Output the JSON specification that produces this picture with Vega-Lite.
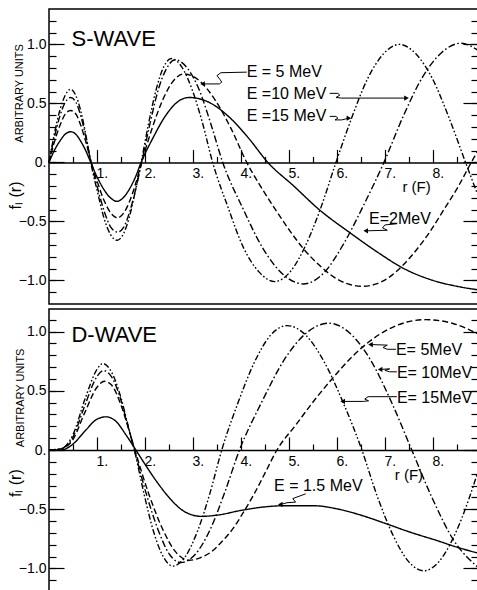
{
  "$schema": "https://vega.github.io/schema/vega-lite/v6.json",
  "background": "white",
  "padding": {"left": 7, "top": 8, "right": 0, "bottom": 0},
  "spacing": 3,
  "config": {
    "view": {"stroke": "black", "strokeWidth": 1.5},
    "axis": {"grid": false, "tickColor": "black", "tickWidth": 1.2, "labelColor": "black", "labelFont": "Liberation Sans", "labelFontSize": 14, "labelOverlap": false, "labelFlush": false, "title": null, "domain": false}
  },
  "datasets": {
    "s_lines": [
      {"E":"E=15","r":0,"f":0},{"E":"E=15","r":0.11,"f":0.24},{"E":"E=15","r":0.225,"f":0.44},{"E":"E=15","r":0.34,"f":0.57},{"E":"E=15","r":0.45,"f":0.62},{"E":"E=15","r":0.555,"f":0.57},{"E":"E=15","r":0.66,"f":0.44},{"E":"E=15","r":0.765,"f":0.24},{"E":"E=15","r":0.87,"f":0},{"E":"E=15","r":1.01,"f":-0.25},{"E":"E=15","r":1.145,"f":-0.47},{"E":"E=15","r":1.28,"f":-0.61},{"E":"E=15","r":1.42,"f":-0.66},{"E":"E=15","r":1.545,"f":-0.61},{"E":"E=15","r":1.67,"f":-0.47},{"E":"E=15","r":1.795,"f":-0.25},{"E":"E=15","r":1.92,"f":0},{"E":"E=15","r":2.08,"f":0.34},{"E":"E=15","r":2.235,"f":0.62},{"E":"E=15","r":2.39,"f":0.81},{"E":"E=15","r":2.55,"f":0.88},{"E":"E=15","r":2.765,"f":0.81},{"E":"E=15","r":2.98,"f":0.62},{"E":"E=15","r":3.195,"f":0.34},{"E":"E=15","r":3.41,"f":0},{"E":"E=15","r":3.73,"f":-0.38},{"E":"E=15","r":4.05,"f":-0.72},{"E":"E=15","r":4.38,"f":-0.93},{"E":"E=15","r":4.7,"f":-1.01},{"E":"E=15","r":5.02,"f":-0.93},{"E":"E=15","r":5.34,"f":-0.71},{"E":"E=15","r":5.66,"f":-0.39},{"E":"E=15","r":5.98,"f":0},{"E":"E=15","r":6.31,"f":0.38},{"E":"E=15","r":6.64,"f":0.71},{"E":"E=15","r":6.97,"f":0.92},{"E":"E=15","r":7.3,"f":1.0},{"E":"E=15","r":7.645,"f":0.92},{"E":"E=15","r":7.99,"f":0.71},{"E":"E=15","r":8.335,"f":0.38},{"E":"E=15","r":8.68,"f":0},{"E":"E=15","r":8.94,"f":-0.28},
      {"E":"E=10","r":0,"f":0},{"E":"E=10","r":0.11,"f":0.21},{"E":"E=10","r":0.225,"f":0.39},{"E":"E=10","r":0.34,"f":0.51},{"E":"E=10","r":0.45,"f":0.55},{"E":"E=10","r":0.56,"f":0.51},{"E":"E=10","r":0.665,"f":0.39},{"E":"E=10","r":0.77,"f":0.21},{"E":"E=10","r":0.88,"f":0},{"E":"E=10","r":1.02,"f":-0.23},{"E":"E=10","r":1.155,"f":-0.42},{"E":"E=10","r":1.29,"f":-0.55},{"E":"E=10","r":1.43,"f":-0.59},{"E":"E=10","r":1.555,"f":-0.55},{"E":"E=10","r":1.68,"f":-0.42},{"E":"E=10","r":1.805,"f":-0.23},{"E":"E=10","r":1.93,"f":0},{"E":"E=10","r":2.105,"f":0.33},{"E":"E=10","r":2.28,"f":0.62},{"E":"E=10","r":2.455,"f":0.8},{"E":"E=10","r":2.63,"f":0.87},{"E":"E=10","r":2.88,"f":0.8},{"E":"E=10","r":3.125,"f":0.62},{"E":"E=10","r":3.37,"f":0.33},{"E":"E=10","r":3.62,"f":0},{"E":"E=10","r":4.04,"f":-0.39},{"E":"E=10","r":4.46,"f":-0.73},{"E":"E=10","r":4.88,"f":-0.95},{"E":"E=10","r":5.3,"f":-1.03},{"E":"E=10","r":5.72,"f":-0.94},{"E":"E=10","r":6.14,"f":-0.69},{"E":"E=10","r":6.56,"f":-0.36},{"E":"E=10","r":6.98,"f":0},{"E":"E=10","r":7.38,"f":0.39},{"E":"E=10","r":7.78,"f":0.72},{"E":"E=10","r":8.18,"f":0.93},{"E":"E=10","r":8.58,"f":1.01},{"E":"E=10","r":8.94,"f":0.95},
      {"E":"E=5","r":0,"f":0},{"E":"E=5","r":0.11,"f":0.17},{"E":"E=5","r":0.225,"f":0.31},{"E":"E=5","r":0.34,"f":0.41},{"E":"E=5","r":0.45,"f":0.44},{"E":"E=5","r":0.56,"f":0.41},{"E":"E=5","r":0.665,"f":0.31},{"E":"E=5","r":0.77,"f":0.17},{"E":"E=5","r":0.88,"f":0},{"E":"E=5","r":1.02,"f":-0.18},{"E":"E=5","r":1.155,"f":-0.33},{"E":"E=5","r":1.29,"f":-0.43},{"E":"E=5","r":1.43,"f":-0.47},{"E":"E=5","r":1.555,"f":-0.43},{"E":"E=5","r":1.68,"f":-0.33},{"E":"E=5","r":1.805,"f":-0.18},{"E":"E=5","r":1.93,"f":0},{"E":"E=5","r":2.15,"f":0.29},{"E":"E=5","r":2.37,"f":0.53},{"E":"E=5","r":2.59,"f":0.69},{"E":"E=5","r":2.81,"f":0.75},{"E":"E=5","r":3.14,"f":0.69},{"E":"E=5","r":3.46,"f":0.53},{"E":"E=5","r":3.79,"f":0.29},{"E":"E=5","r":4.12,"f":0},{"E":"E=5","r":4.42,"f":-0.21},{"E":"E=5","r":4.72,"f":-0.4},{"E":"E=5","r":5.02,"f":-0.58},{"E":"E=5","r":5.32,"f":-0.74},{"E":"E=5","r":5.63,"f":-0.87},{"E":"E=5","r":5.93,"f":-0.97},{"E":"E=5","r":6.23,"f":-1.03},{"E":"E=5","r":6.53,"f":-1.05},{"E":"E=5","r":6.82,"f":-1.03},{"E":"E=5","r":7.1,"f":-0.97},{"E":"E=5","r":7.38,"f":-0.87},{"E":"E=5","r":7.66,"f":-0.74},{"E":"E=5","r":7.95,"f":-0.58},{"E":"E=5","r":8.23,"f":-0.4},{"E":"E=5","r":8.52,"f":-0.21},{"E":"E=5","r":8.8,"f":0},{"E":"E=5","r":8.94,"f":0.1},
      {"E":"E=2","r":0,"f":0},{"E":"E=2","r":0.11,"f":0.1},{"E":"E=2","r":0.225,"f":0.18},{"E":"E=2","r":0.34,"f":0.24},{"E":"E=2","r":0.45,"f":0.26},{"E":"E=2","r":0.555,"f":0.24},{"E":"E=2","r":0.66,"f":0.18},{"E":"E=2","r":0.765,"f":0.1},{"E":"E=2","r":0.87,"f":0},{"E":"E=2","r":1.01,"f":-0.13},{"E":"E=2","r":1.145,"f":-0.23},{"E":"E=2","r":1.28,"f":-0.3},{"E":"E=2","r":1.42,"f":-0.33},{"E":"E=2","r":1.545,"f":-0.3},{"E":"E=2","r":1.67,"f":-0.23},{"E":"E=2","r":1.795,"f":-0.13},{"E":"E=2","r":1.92,"f":0},{"E":"E=2","r":2.17,"f":0.21},{"E":"E=2","r":2.42,"f":0.39},{"E":"E=2","r":2.67,"f":0.51},{"E":"E=2","r":2.92,"f":0.55},{"E":"E=2","r":3.33,"f":0.51},{"E":"E=2","r":3.74,"f":0.39},{"E":"E=2","r":4.15,"f":0.21},{"E":"E=2","r":4.56,"f":0},{"E":"E=2","r":5.1,"f":-0.2},{"E":"E=2","r":5.63,"f":-0.4},{"E":"E=2","r":6.25,"f":-0.59},{"E":"E=2","r":6.88,"f":-0.77},{"E":"E=2","r":7.35,"f":-0.89},{"E":"E=2","r":8.0,"f":-1.0},{"E":"E=2","r":8.5,"f":-1.05},{"E":"E=2","r":8.94,"f":-1.08}
    ],
    "d_lines": [
      {"E":"E=15","r":0,"f":0},{"E":"E=15","r":0.25,"f":0.01},{"E":"E=15","r":0.5,"f":0.13},{"E":"E=15","r":0.75,"f":0.43},{"E":"E=15","r":1.0,"f":0.68},{"E":"E=15","r":1.12,"f":0.73},{"E":"E=15","r":1.3,"f":0.66},{"E":"E=15","r":1.5,"f":0.44},{"E":"E=15","r":1.64,"f":0.22},{"E":"E=15","r":1.78,"f":0},{"E":"E=15","r":1.98,"f":-0.37},{"E":"E=15","r":2.18,"f":-0.69},{"E":"E=15","r":2.38,"f":-0.9},{"E":"E=15","r":2.58,"f":-0.98},{"E":"E=15","r":2.84,"f":-0.9},{"E":"E=15","r":3.09,"f":-0.69},{"E":"E=15","r":3.35,"f":-0.37},{"E":"E=15","r":3.6,"f":0},{"E":"E=15","r":3.94,"f":0.4},{"E":"E=15","r":4.28,"f":0.74},{"E":"E=15","r":4.62,"f":0.97},{"E":"E=15","r":4.96,"f":1.05},{"E":"E=15","r":5.35,"f":0.97},{"E":"E=15","r":5.74,"f":0.74},{"E":"E=15","r":6.13,"f":0.4},{"E":"E=15","r":6.52,"f":0},{"E":"E=15","r":6.84,"f":-0.39},{"E":"E=15","r":7.17,"f":-0.72},{"E":"E=15","r":7.49,"f":-0.94},{"E":"E=15","r":7.81,"f":-1.02},{"E":"E=15","r":8.13,"f":-0.94},{"E":"E=15","r":8.45,"f":-0.72},{"E":"E=15","r":8.77,"f":-0.39},{"E":"E=15","r":8.94,"f":-0.18},
      {"E":"E=10","r":0,"f":0},{"E":"E=10","r":0.25,"f":0.01},{"E":"E=10","r":0.5,"f":0.11},{"E":"E=10","r":0.75,"f":0.38},{"E":"E=10","r":1.0,"f":0.62},{"E":"E=10","r":1.14,"f":0.67},{"E":"E=10","r":1.3,"f":0.62},{"E":"E=10","r":1.5,"f":0.42},{"E":"E=10","r":1.64,"f":0.21},{"E":"E=10","r":1.78,"f":0},{"E":"E=10","r":2.02,"f":-0.36},{"E":"E=10","r":2.27,"f":-0.67},{"E":"E=10","r":2.51,"f":-0.88},{"E":"E=10","r":2.75,"f":-0.95},{"E":"E=10","r":3.05,"f":-0.88},{"E":"E=10","r":3.36,"f":-0.67},{"E":"E=10","r":3.66,"f":-0.36},{"E":"E=10","r":3.97,"f":0},{"E":"E=10","r":4.44,"f":0.41},{"E":"E=10","r":4.9,"f":0.76},{"E":"E=10","r":5.37,"f":0.99},{"E":"E=10","r":5.83,"f":1.07},{"E":"E=10","r":6.26,"f":0.99},{"E":"E=10","r":6.7,"f":0.76},{"E":"E=10","r":7.13,"f":0.41},{"E":"E=10","r":7.56,"f":0},{"E":"E=10","r":7.99,"f":-0.41},{"E":"E=10","r":8.43,"f":-0.76},{"E":"E=10","r":8.94,"f":-0.99},
      {"E":"E=5","r":0,"f":0},{"E":"E=5","r":0.25,"f":0.01},{"E":"E=5","r":0.5,"f":0.09},{"E":"E=5","r":0.75,"f":0.32},{"E":"E=5","r":1.0,"f":0.53},{"E":"E=5","r":1.16,"f":0.58},{"E":"E=5","r":1.3,"f":0.55},{"E":"E=5","r":1.5,"f":0.38},{"E":"E=5","r":1.65,"f":0.19},{"E":"E=5","r":1.79,"f":0},{"E":"E=5","r":2.07,"f":-0.36},{"E":"E=5","r":2.36,"f":-0.66},{"E":"E=5","r":2.64,"f":-0.86},{"E":"E=5","r":2.92,"f":-0.93},{"E":"E=5","r":3.15,"f":-0.91},{"E":"E=5","r":3.38,"f":-0.86},{"E":"E=5","r":3.61,"f":-0.77},{"E":"E=5","r":3.84,"f":-0.66},{"E":"E=5","r":4.06,"f":-0.52},{"E":"E=5","r":4.29,"f":-0.36},{"E":"E=5","r":4.52,"f":-0.18},{"E":"E=5","r":4.75,"f":0},{"E":"E=5","r":5.14,"f":0.21},{"E":"E=5","r":5.53,"f":0.42},{"E":"E=5","r":5.92,"f":0.61},{"E":"E=5","r":6.3,"f":0.78},{"E":"E=5","r":6.69,"f":0.92},{"E":"E=5","r":7.08,"f":1.02},{"E":"E=5","r":7.46,"f":1.08},{"E":"E=5","r":7.85,"f":1.1},{"E":"E=5","r":8.4,"f":1.07},{"E":"E=5","r":8.94,"f":0.98},
      {"E":"E=1.5","r":0,"f":0},{"E":"E=1.5","r":0.25,"f":0.0},{"E":"E=1.5","r":0.5,"f":0.05},{"E":"E=1.5","r":0.75,"f":0.16},{"E":"E=1.5","r":1.0,"f":0.26},{"E":"E=1.5","r":1.19,"f":0.28},{"E":"E=1.5","r":1.4,"f":0.24},{"E":"E=1.5","r":1.6,"f":0.13},{"E":"E=1.5","r":1.81,"f":0},{"E":"E=1.5","r":2.0,"f":-0.12},{"E":"E=1.5","r":2.25,"f":-0.27},{"E":"E=1.5","r":2.5,"f":-0.4},{"E":"E=1.5","r":2.75,"f":-0.5},{"E":"E=1.5","r":3.0,"f":-0.55},{"E":"E=1.5","r":3.17,"f":-0.56},{"E":"E=1.5","r":3.5,"f":-0.55},{"E":"E=1.5","r":4.0,"f":-0.51},{"E":"E=1.5","r":4.5,"f":-0.48},{"E":"E=1.5","r":4.93,"f":-0.47},{"E":"E=1.5","r":5.5,"f":-0.47},{"E":"E=1.5","r":6.04,"f":-0.5},{"E":"E=1.5","r":6.5,"f":-0.55},{"E":"E=1.5","r":7.01,"f":-0.62},{"E":"E=1.5","r":7.5,"f":-0.69},{"E":"E=1.5","r":8.13,"f":-0.77},{"E":"E=1.5","r":8.5,"f":-0.82},{"E":"E=1.5","r":8.94,"f":-0.87}
    ],
    "s_arrows": [
      {"id":"a5","i":0,"r":4.12,"f":0.765},{"id":"a5","i":1,"r":3.58,"f":0.76},{"id":"a5","i":2,"r":3.5,"f":0.735},{"id":"a5","i":3,"r":3.56,"f":0.705},{"id":"a5","i":4,"r":3.6,"f":0.68},{"id":"a5","i":5,"r":3.55,"f":0.665},{"id":"a5","i":6,"r":3.2,"f":0.665},
      {"id":"a10","i":0,"r":5.85,"f":0.585},{"id":"a10","i":1,"r":6.02,"f":0.585},{"id":"a10","i":2,"r":6.06,"f":0.57},{"id":"a10","i":3,"r":5.98,"f":0.55},{"id":"a10","i":4,"r":6.1,"f":0.545},{"id":"a10","i":5,"r":7.45,"f":0.545},
      {"id":"a15","i":0,"r":5.85,"f":0.39},{"id":"a15","i":1,"r":5.98,"f":0.39},{"id":"a15","i":2,"r":6.02,"f":0.375},{"id":"a15","i":3,"r":5.96,"f":0.36},{"id":"a15","i":4,"r":6.1,"f":0.36},{"id":"a15","i":5,"r":6.25,"f":0.375},
      {"id":"a2","i":0,"r":7.25,"f":-0.52},{"id":"a2","i":1,"r":7.0,"f":-0.53},{"id":"a2","i":2,"r":6.95,"f":-0.555},{"id":"a2","i":3,"r":7.05,"f":-0.575},{"id":"a2","i":4,"r":6.6,"f":-0.58}
    ],
    "d_arrows": [
      {"id":"b5","i":0,"r":7.23,"f":0.85},{"id":"b5","i":1,"r":7.05,"f":0.85},{"id":"b5","i":2,"r":6.96,"f":0.865},{"id":"b5","i":3,"r":7.05,"f":0.885},{"id":"b5","i":4,"r":6.7,"f":0.89},
      {"id":"b10","i":0,"r":7.25,"f":0.66},{"id":"b10","i":1,"r":7.1,"f":0.66},{"id":"b10","i":2,"r":7.0,"f":0.672},{"id":"b10","i":3,"r":7.1,"f":0.685},{"id":"b10","i":4,"r":6.9,"f":0.68},
      {"id":"b15","i":0,"r":7.25,"f":0.45},{"id":"b15","i":1,"r":6.65,"f":0.45},{"id":"b15","i":2,"r":6.58,"f":0.43},{"id":"b15","i":3,"r":6.66,"f":0.415},{"id":"b15","i":4,"r":6.55,"f":0.41},{"id":"b15","i":5,"r":6.12,"f":0.41},
      {"id":"b1","i":0,"r":5.35,"f":-0.37},{"id":"b1","i":1,"r":5.08,"f":-0.41},{"id":"b1","i":2,"r":5.14,"f":-0.44},{"id":"b1","i":3,"r":4.96,"f":-0.445},{"id":"b1","i":4,"r":4.82,"f":-0.46}
    ],
    "s_tips": [
      {"r":3.2,"f":0.665,"dir":"left"},{"r":7.45,"f":0.545,"dir":"right"},{"r":6.25,"f":0.375,"dir":"right"},{"r":6.6,"f":-0.58,"dir":"left"}
    ],
    "d_tips": [
      {"r":6.7,"f":0.89,"dir":"left"},{"r":6.9,"f":0.68,"dir":"left"},{"r":6.12,"f":0.41,"dir":"left"},{"r":4.82,"f":-0.46,"dir":"left"}
    ],
    "s_labels": [
      {"text":"E = 5 MeV","r":4.12,"f":0.77},{"text":"E =10 MeV","r":4.12,"f":0.58},{"text":"E =15 MeV","r":4.12,"f":0.39},{"text":"E=2MeV","r":6.67,"f":-0.48}
    ],
    "d_labels": [
      {"text":"E= 5MeV","r":7.23,"f":0.84},{"text":"E= 10MeV","r":7.25,"f":0.65},{"text":"E= 15MeV","r":7.25,"f":0.44},{"text":"E = 1.5 MeV","r":4.69,"f":-0.3}
    ],
    "s_side": [
      {"text":"ARBITRARY UNITS","r":-0.6,"f":0.585,"kind":"units"},{"text":"fₗ (r)","r":-0.69,"f":-0.28,"kind":"f"}
    ],
    "d_side": [
      {"text":"ARBITRARY UNITS","r":-0.58,"f":0.44,"kind":"units"},{"text":"fₗ (r)","r":-0.69,"f":-0.28,"kind":"f"}
    ]
  },
  "vconcat": [
    {
      "width": 429,
      "height": 295,
      "resolve": {"axis": {"x": "independent", "y": "independent"}},
      "layer": [
        {
          "data": {"name": "s_lines"},
          "mark": {"type": "line", "interpolate": "monotone", "strokeWidth": 1.4, "color": "black"},
          "encoding": {
            "x": {"field": "r", "type": "quantitative", "scale": {"domain": [0, 8.94], "nice": false, "zero": false},
              "axis": {"orient": "bottom", "offset": -141.6, "values": [1,2,3,4,5,6,7,8], "tickSize": -13, "domain": true, "domainColor": "black", "domainWidth": 1.5, "labelExpr": "datum.value + '.'", "labelAlign": "left", "labelBaseline": "top", "labelPadding": 17, "labelOffset": -1}},
            "y": {"field": "f", "type": "quantitative", "scale": {"domain": [-1.2, 1.3], "nice": false, "zero": false},
              "axis": {"orient": "left", "values": [-1.1,-1,-0.9,-0.8,-0.7,-0.6,-0.5,-0.4,-0.3,-0.2,-0.1,0,0.1,0.2,0.3,0.4,0.5,0.6,0.7,0.8,0.9,1,1.1,1.2], "tickSize": -7, "labelPadding": 10, "labelBaseline": "middle", "labelExpr": "abs(datum.value) < 0.001 ? '0.' : (abs(abs(datum.value) - 1) < 0.001 || abs(abs(datum.value) - 0.5) < 0.001) ? format(datum.value, '.1f') : ''"}},
            "strokeDash": {"field": "E", "type": "nominal", "legend": null, "scale": {"domain": ["E=2","E=5","E=10","E=15"], "range": [[1,0],[6,3],[7,2.5,1.6,2.5],[6,2.2,1.6,2.2,1.6,2.2]]}}
          }
        },
        {
          "data": {"name": "s_arrows"},
          "mark": {"type": "line", "strokeWidth": 1, "color": "black"},
          "encoding": {
            "x": {"field": "r", "type": "quantitative", "axis": {"orient": "bottom", "offset": -141.6, "values": [0.5,1.5,2.5,3.5,4.5,5.5,6.5,7.5,8.5], "tickSize": -6, "labels": false}},
            "y": {"field": "f", "type": "quantitative", "axis": {"orient": "right", "values": [-1.1,-1,-0.9,-0.8,-0.7,-0.6,-0.5,-0.4,-0.3,-0.2,-0.1,0,0.1,0.2,0.3,0.4,0.5,0.6,0.7,0.8,0.9,1,1.1,1.2], "tickSize": -7, "labels": false}},
            "detail": {"field": "id", "type": "nominal"},
            "order": {"field": "i", "type": "quantitative"}
          }
        },
        {
          "data": {"name": "s_tips"},
          "mark": {"type": "point", "filled": true, "size": 28, "color": "black", "opacity": 1},
          "encoding": {
            "x": {"field": "r", "type": "quantitative", "axis": null},
            "y": {"field": "f", "type": "quantitative", "axis": {"orient": "left", "values": [-1,-0.5,0,0.5,1], "tickSize": -15, "labels": false}},
            "shape": {"field": "dir", "type": "nominal", "legend": null, "scale": {"domain": ["left","right"], "range": ["triangle-left","triangle-right"]}}
          }
        },
        {
          "data": {"name": "s_labels"},
          "mark": {"type": "text", "align": "left", "baseline": "middle", "font": "Liberation Sans", "fontSize": 16, "color": "black"},
          "encoding": {
            "x": {"field": "r", "type": "quantitative", "axis": null},
            "y": {"field": "f", "type": "quantitative", "axis": {"orient": "right", "values": [-1,-0.5,0,0.5,1], "tickSize": -15, "labels": false}},
            "text": {"field": "text"}
          }
        },
        {
          "data": {"values": [{"text": "S-WAVE", "r": 1.35, "f": 1.05}]},
          "mark": {"type": "text", "align": "center", "baseline": "middle", "font": "Liberation Sans", "fontSize": 22, "color": "black"},
          "encoding": {
            "x": {"field": "r", "type": "quantitative", "axis": null},
            "y": {"field": "f", "type": "quantitative", "axis": null},
            "text": {"field": "text"}
          }
        },
        {
          "data": {"values": [{"text": "r (F)", "r": 7.66, "f": -0.21}]},
          "mark": {"type": "text", "align": "center", "baseline": "middle", "font": "Liberation Sans", "fontSize": 15, "color": "black"},
          "encoding": {
            "x": {"field": "r", "type": "quantitative", "axis": null},
            "y": {"field": "f", "type": "quantitative", "axis": null},
            "text": {"field": "text"}
          }
        },
        {
          "data": {"name": "s_side"},
          "mark": {"type": "text", "align": "center", "baseline": "middle", "angle": 270, "color": "black", "font": "Liberation Sans"},
          "encoding": {
            "x": {"field": "r", "type": "quantitative", "axis": null},
            "y": {"field": "f", "type": "quantitative", "axis": null},
            "text": {"field": "text"},
            "size": {"field": "kind", "type": "nominal", "legend": null, "scale": {"domain": ["units","f"], "range": [11, 16]}},
            "fontWeight": {"value": "bold"}
          }
        }
      ]
    },
    {
      "width": 429,
      "height": 282,
      "resolve": {"axis": {"x": "independent", "y": "independent"}},
      "layer": [
        {
          "data": {"name": "d_lines"},
          "mark": {"type": "line", "interpolate": "monotone", "strokeWidth": 1.4, "color": "black"},
          "encoding": {
            "x": {"field": "r", "type": "quantitative", "scale": {"domain": [0, 8.94], "nice": false, "zero": false},
              "axis": {"orient": "bottom", "offset": -141, "values": [1,2,3,4,5,6,7,8], "tickSize": -13, "domain": true, "domainColor": "black", "domainWidth": 1.5, "labelExpr": "datum.value + '.'", "labelAlign": "left", "labelBaseline": "top", "labelPadding": 17, "labelOffset": -1}},
            "y": {"field": "f", "type": "quantitative", "scale": {"domain": [-1.19, 1.19], "nice": false, "zero": false},
              "axis": {"orient": "left", "values": [-1.1,-1,-0.9,-0.8,-0.7,-0.6,-0.5,-0.4,-0.3,-0.2,-0.1,0,0.1,0.2,0.3,0.4,0.5,0.6,0.7,0.8,0.9,1,1.1], "tickSize": -7, "labelPadding": 10, "labelBaseline": "middle", "labelExpr": "abs(datum.value) < 0.001 ? '0.' : (abs(abs(datum.value) - 1) < 0.001 || abs(abs(datum.value) - 0.5) < 0.001) ? format(datum.value, '.1f') : ''"}},
            "strokeDash": {"field": "E", "type": "nominal", "legend": null, "scale": {"domain": ["E=1.5","E=5","E=10","E=15"], "range": [[1,0],[6,3],[7,2.5,1.6,2.5],[6,2.2,1.6,2.2,1.6,2.2]]}}
          }
        },
        {
          "data": {"name": "d_arrows"},
          "mark": {"type": "line", "strokeWidth": 1, "color": "black"},
          "encoding": {
            "x": {"field": "r", "type": "quantitative", "axis": {"orient": "bottom", "offset": -141, "values": [0.5,1.5,2.5,3.5,4.5,5.5,6.5,7.5,8.5], "tickSize": -6, "labels": false}},
            "y": {"field": "f", "type": "quantitative", "axis": {"orient": "right", "values": [-1.1,-1,-0.9,-0.8,-0.7,-0.6,-0.5,-0.4,-0.3,-0.2,-0.1,0,0.1,0.2,0.3,0.4,0.5,0.6,0.7,0.8,0.9,1,1.1], "tickSize": -7, "labels": false}},
            "detail": {"field": "id", "type": "nominal"},
            "order": {"field": "i", "type": "quantitative"}
          }
        },
        {
          "data": {"name": "d_tips"},
          "mark": {"type": "point", "filled": true, "size": 28, "color": "black", "opacity": 1},
          "encoding": {
            "x": {"field": "r", "type": "quantitative", "axis": null},
            "y": {"field": "f", "type": "quantitative", "axis": {"orient": "left", "values": [-1,-0.5,0,0.5,1], "tickSize": -15, "labels": false}},
            "shape": {"field": "dir", "type": "nominal", "legend": null, "scale": {"domain": ["left","right"], "range": ["triangle-left","triangle-right"]}}
          }
        },
        {
          "data": {"name": "d_labels"},
          "mark": {"type": "text", "align": "left", "baseline": "middle", "font": "Liberation Sans", "fontSize": 16, "color": "black"},
          "encoding": {
            "x": {"field": "r", "type": "quantitative", "axis": null},
            "y": {"field": "f", "type": "quantitative", "axis": {"orient": "right", "values": [-1,-0.5,0,0.5,1], "tickSize": -15, "labels": false}},
            "text": {"field": "text"}
          }
        },
        {
          "data": {"values": [{"text": "D-WAVE", "r": 1.36, "f": 0.97}]},
          "mark": {"type": "text", "align": "center", "baseline": "middle", "font": "Liberation Sans", "fontSize": 22, "color": "black"},
          "encoding": {
            "x": {"field": "r", "type": "quantitative", "axis": null},
            "y": {"field": "f", "type": "quantitative", "axis": null},
            "text": {"field": "text"}
          }
        },
        {
          "data": {"values": [{"text": "r (F)", "r": 7.5, "f": -0.21}]},
          "mark": {"type": "text", "align": "center", "baseline": "middle", "font": "Liberation Sans", "fontSize": 15, "color": "black"},
          "encoding": {
            "x": {"field": "r", "type": "quantitative", "axis": null},
            "y": {"field": "f", "type": "quantitative", "axis": null},
            "text": {"field": "text"}
          }
        },
        {
          "data": {"name": "d_side"},
          "mark": {"type": "text", "align": "center", "baseline": "middle", "angle": 270, "color": "black", "font": "Liberation Sans"},
          "encoding": {
            "x": {"field": "r", "type": "quantitative", "axis": null},
            "y": {"field": "f", "type": "quantitative", "axis": null},
            "text": {"field": "text"},
            "size": {"field": "kind", "type": "nominal", "legend": null, "scale": {"domain": ["units","f"], "range": [11, 16]}},
            "fontWeight": {"value": "bold"}
          }
        }
      ]
    }
  ]
}
